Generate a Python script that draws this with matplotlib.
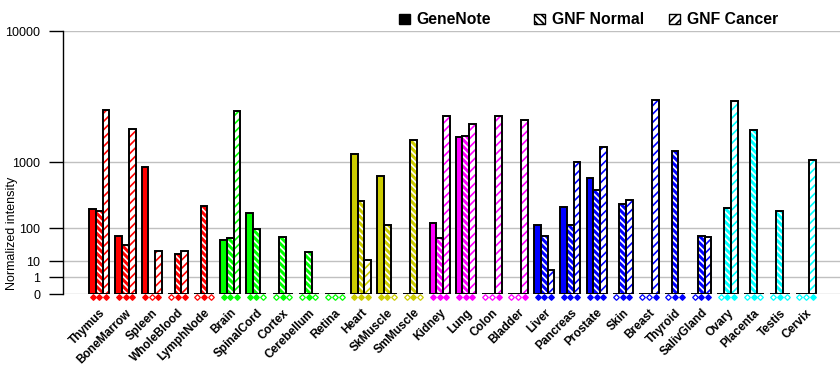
import numpy as np
import matplotlib
matplotlib.use("Agg")
import matplotlib.pyplot as plt
from matplotlib.patches import Patch

plt.rcParams['font.family'] = ['Liberation Sans', 'DejaVu Sans']
plt.rcParams['hatch.linewidth'] = 1.2

nan = np.nan
tissues = ['Thymus', 'BoneMarrow', 'Spleen', 'WholeBlood', 'LymphNode', 'Brain', 'SpinalCord',
           'Cortex', 'Cerebellum', 'Retina', 'Heart', 'SkMuscle', 'SmMuscle', 'Kidney', 'Lung',
           'Colon', 'Bladder', 'Liver', 'Pancreas', 'Prostate', 'Skin', 'Breast', 'Thyroid',
           'SalivGland', 'Ovary', 'Placenta', 'Testis', 'Cervix']
tissue_colors = ['#ff0000'] * 5 + ['#00ff00'] * 5 + ['#cccc00'] * 3 + ['#ff00ff'] * 4 + \
                ['#0000ff'] * 7 + ['#00ffff'] * 4

genenote = [196, 58, 850, nan, nan, 45, 172, nan, nan, nan, 1160, 627, nan, 120, 1560,
            nan, nan, 112, 210, 578, nan, nan, nan, nan, nan, nan, nan, nan]
gnf_normal = [185, 32, nan, 17, 218, 52, 93, 54, 19, nan, 259, 112, 1480, 50, 1600,
              nan, nan, 58, 112, 380, 236, nan, 1220, 60, 205, 1775, 183, nan]
gnf_cancer = [2520, 1800, 21, 21, nan, 2480, nan, nan, nan, nan, 11, nan, nan, 2245, 1970,
              2270, 2100, 3, 1005, 1315, 268, 3000, 0, 56, 2950, nan, nan, 1040]

ytick_vals = [0, 1, 10, 100, 1000, 10000]

# odd axis of the original: every decade twice as tall as the one below
_lv = [0, 1, 2, 3, 4, 5]
_px = [17, 33, 66, 132, 263, 394]


def fwd(v):
    v = np.asarray(v, dtype=float)
    lin = v * 17.0
    lg = np.interp(np.log10(np.maximum(v, 1.0)), _lv, _px)
    return np.where(v < 1, lin, lg)


def inv(p):
    p = np.asarray(p, dtype=float)
    lin = p / 17.0
    lg = 10 ** np.interp(np.maximum(p, 17.0), _px, _lv)
    return np.where(p < 17, lin, lg)


fig = plt.figure(figsize=(8.4, 3.85), dpi=100)
ax = fig.add_axes([63 / 840, 1 - 294.3 / 385, 777 / 840, 263 / 385])
ax.set_yscale('function', functions=(fwd, inv))

x = np.arange(len(tissues))
w = 0.256
series = [(genenote, -w, 'solid'), (gnf_normal, 0, 'normal'), (gnf_cancer, w, 'cancer')]

for vals, off, kind in series:
    vals = np.array(vals, dtype=float)
    h = np.nan_to_num(vals, nan=0.0)
    for xi, hi, c in zip(x, h, tissue_colors):
        if kind == 'solid':
            ax.bar(xi + off, hi, w, color=c, linewidth=0, zorder=2)
        elif kind == 'normal':
            ax.bar(xi + off, hi, w, facecolor=c, edgecolor='white', hatch='\\' * 5,
                   linewidth=0, zorder=2)
        else:
            ax.bar(xi + off, hi, w, facecolor='white', edgecolor=c, hatch='////',
                   linewidth=0, zorder=2)
    ax.bar(x + off, h, w, facecolor='none', edgecolor='black', linewidth=1.4, zorder=3)
    # presence markers under the axis (filled = value present)
    tr = ax.get_xaxis_transform()
    for xi, v, c in zip(x, vals, tissue_colors):
        face = c if not np.isnan(v) else 'white'
        ax.plot(xi + off, -0.012, marker='D', markersize=2.9, markerfacecolor=face,
                markeredgecolor=c, markeredgewidth=0.9, transform=tr, clip_on=False, zorder=4)

ax.set_xlim(-1.39, 28.3)
ax.set_ylim(0, 10000)
ax.set_yticks(ytick_vals)
ax.set_yticklabels([str(v) for v in ytick_vals], fontsize=9)
ax.yaxis.set_minor_locator(matplotlib.ticker.NullLocator())
ax.tick_params(axis='y', length=10, width=1, pad=6.5)
ax.yaxis.grid(True, color='#c0c0c0', linewidth=1)
ax.set_axisbelow(True)

ax.set_xticks(x)
ax.set_xticklabels(tissues, rotation=45, ha='right', va='top', rotation_mode='anchor',
                   fontsize=8.5, fontweight='bold')
ax.tick_params(axis='x', length=0, pad=9)

for s in ['top', 'right', 'bottom']:
    ax.spines[s].set_visible(False)
ax.spines['left'].set_linewidth(1)

ax.set_ylabel('Normalized intensity', fontsize=9)
ax.yaxis.set_label_coords((18 - 63) / 777, 0.233)

handles = [Patch(facecolor='black', edgecolor='black', label='GeneNote'),
           Patch(facecolor='white', edgecolor='black', hatch='\\' * 5, label='GNF Normal'),
           Patch(facecolor='white', edgecolor='black', hatch='////', label='GNF Cancer')]
for hnd, lx in zip(handles, [399, 534, 669]):
    fig.legend(handles=[hnd], loc='center left', bbox_to_anchor=(lx / 840, 1 - 20 / 385),
               frameon=False, borderpad=0, borderaxespad=0, handlelength=0.68,
               handleheight=0.68, handletextpad=0.45,
               prop={'size': 11.3, 'weight': 'bold'})

fig.savefig('out.png', dpi=100)
